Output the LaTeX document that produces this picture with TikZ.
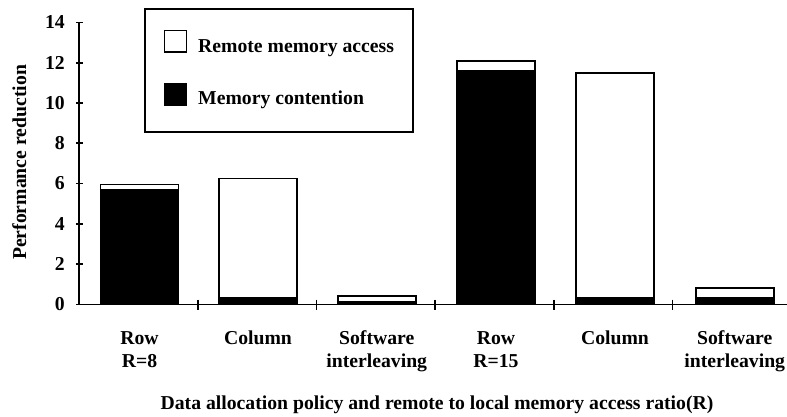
\documentclass[tikz,border=0pt]{standalone}
\usepackage{fontspec}
\setmainfont{Liberation Serif}
\begin{document}
\begin{tikzpicture}[x=1pt,y=-1pt,
  txt/.style={font=\fontsize{19.7}{23}\selectfont\bfseries, inner sep=0pt},
  axisline/.style={line width=1.6pt},
  barline/.style={draw=black, line width=1.8pt, line join=miter},
  frame/.style={draw=black, line width=1.8pt}]
\useasboundingbox (0,0) rectangle (787,416);

% bars: centre / total / memory contention part
\foreach \cx/\tot/\blk in {139.5/5.95/5.75, 258/6.25/0.35, 376.7/0.42/0.18,
                           496/12.07/11.64, 615/11.48/0.38, 734.7/0.82/0.38}{
  \fill[black] ({\cx-39},304.3) rectangle ({\cx+39},{304.3-20.13*\blk});
  \draw[barline] ({\cx-39},304.3) rectangle ({\cx+39},{304.3-20.13*\tot});
}

% axes
\coordinate (ytop) at (79,22);
\coordinate (origin) at (79,304.3);
\coordinate (xend) at (787,304.3);
\draw[axisline] (ytop) -- (origin) -- (xend);

% y ticks and labels
\foreach \v in {0,2,...,14}{
  \draw[axisline] (76,{304.3-20.13*\v}) -- (83,{304.3-20.13*\v});
  \node[txt, anchor=east] (tick\v) at (65,{304.3-20.13*\v}) {\v};
}

% category separators
\foreach \k in {1,...,5}{
  \draw[axisline] ({79+118.7*\k},299.5) -- ({79+118.7*\k},309.5);
}

% category labels
\foreach \cx/\la/\lb/\nm in {139.5/Row/R=8/a, 258/Column//b, 376.7/Software/interleaving/c,
                             496/Row/R=15/d, 615/Column//e, 734.7/Software/interleaving/f}{
  \node[txt, anchor=base] (cat\nm1) at (\cx,344.3) {\la};
  \node[txt, anchor=base] (cat\nm2) at (\cx,367.3) {\lb};
}

% axis titles
\node[txt, anchor=base] (xtitle) at (437,409)
  {Data allocation policy and remote to local memory access ratio(R)};
\node[txt, anchor=base, rotate=90] (ytitle) at (26,162.5) {Performance reduction};

% legend
\draw[frame] (144.7,9) rectangle (412.7,132.3);
\draw[line width=1.6pt] (164.5,30.5) rectangle (186.5,52);
\fill[black] (164,83) rectangle (187,106);
\node[txt, anchor=base west] (legA) at (198,52.3) {Remote memory access};
\node[txt, anchor=base west] (legB) at (198,104) {Memory contention};
\end{tikzpicture}
\end{document}
